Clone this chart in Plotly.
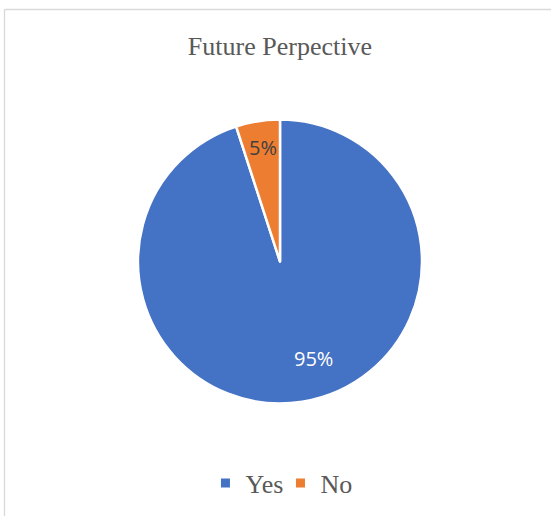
import plotly.graph_objects as go

# Survey answers and their shares
labels = ["Yes", "No"]
shares = [95, 5]
colors = ["#4472C4", "#ED7D31"]
label_colors = ["#FFFFFF", "#404040"]

W, H = 551, 516

fig = go.Figure()

fig.add_trace(go.Pie(
    labels=labels,
    values=shares,
    sort=False,
    direction="clockwise",
    rotation=0,
    marker=dict(colors=colors, line=dict(color="#FFFFFF", width=2.5)),
    textinfo="none",
    showlegend=False,
    domain=dict(x=[138 / W, 422 / W], y=[(H - 404) / H, (H - 119) / H]),
    hoverinfo="label+percent",
))

# Percentage data labels, placed like the spreadsheet's best-fit labels
label_pos = [(313 / W, 1 - 358 / H), (263 / W, 1 - 147 / H)]
total = sum(shares)
for v, (lx, ly), col in zip(shares, label_pos, label_colors):
    fig.add_annotation(
        x=lx, y=ly, xref="paper", yref="paper",
        text=f"{round(100 * v / total)}%", showarrow=False,
        xanchor="center", yanchor="middle",
        font=dict(family="Open Sans", size=20, color=col),
    )

# Legend entries with small square swatches
for name, col in zip(labels, colors):
    fig.add_trace(go.Scatter(
        x=[None], y=[None], mode="markers", name=name,
        marker=dict(symbol="square", size=9, color=col),
        showlegend=True,
    ))

fig.update_layout(
    width=W, height=H,
    margin=dict(l=0, r=0, t=0, b=0),
    paper_bgcolor="#FFFFFF",
    plot_bgcolor="#FFFFFF",
    xaxis=dict(visible=False),
    yaxis=dict(visible=False),
    title=dict(
        text="Future Perpective",
        font=dict(family="Liberation Serif", size=26, color="#595959"),
        x=0.508, xanchor="center",
        y=1 - 46 / H, yanchor="middle", yref="container",
    ),
    legend=dict(
        orientation="h",
        x=0.509, xanchor="center",
        y=(H - 483) / H, yanchor="middle",
        font=dict(family="Liberation Serif", size=26, color="#595959"),
        bgcolor="rgba(0,0,0,0)",
        entrywidth=30,
        itemclick=False,
    ),
    shapes=[
        dict(type="line", xref="paper", yref="paper",
             x0=4.5 / W, x1=4.5 / W, y0=0, y1=1 - 9.5 / H,
             line=dict(color="#D9D9D9", width=1.3)),
        dict(type="line", xref="paper", yref="paper",
             x0=4.5 / W, x1=1, y0=1 - 9.5 / H, y1=1 - 9.5 / H,
             line=dict(color="#D9D9D9", width=1.3)),
    ],
)

fig.write_html("out.html")
